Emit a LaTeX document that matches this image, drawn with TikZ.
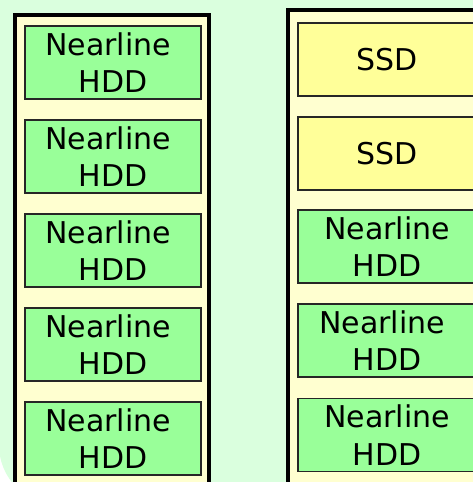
\documentclass[tikz,border=0pt]{standalone}
\usepackage{fontspec}
\setmainfont{DejaVu Sans}
\definecolor{bgmint}{RGB}{218,255,222}
\definecolor{trayyellow}{RGB}{255,255,208}
\definecolor{hddgreen}{RGB}{153,255,153}
\definecolor{ssdyellow}{RGB}{255,255,153}
\tikzset{
  tray/.style={draw=black, line width=3.6pt, fill=trayyellow},
  disk/.style={draw=black!85, line width=1.3pt, inner sep=0pt, align=center,
    font=\fontsize{30}{37.5}\selectfont},
  hdd/.style={disk, fill=hddgreen},
  ssd/.style={disk, fill=ssdyellow}
}
\begin{document}
\begin{tikzpicture}[x=1pt, y=-1pt]
  \useasboundingbox (0,0) rectangle (473,482);
  \clip (0,0) rectangle (473,482);

  % Background
  \fill[white] (0,0) rectangle (473,482);
  \fill[bgmint, rounded corners=60pt] (-1,-80) -- (-1,505) -- (560,505) -- (560,-80) -- cycle;

  % Left tray
  \draw[tray] (14.7,14.7) rectangle (208.7,520);
  \node[hdd, minimum width=176pt, minimum height=73pt] (l1) at (113,62.5) {Nearline\kern10pt\\HDD};
  \node[hdd, minimum width=176pt, minimum height=73pt] (l2) at (113,156.5) {Nearline\kern10pt\\HDD};
  \node[hdd, minimum width=176pt, minimum height=73pt] (l3) at (113,250.5) {Nearline\kern10pt\\HDD};
  \node[hdd, minimum width=176pt, minimum height=73pt] (l4) at (113,344.5) {Nearline\kern10pt\\HDD};
  \node[hdd, minimum width=176pt, minimum height=73pt] (l5) at (113,438.5) {Nearline\kern10pt\\HDD};

  % Right tray
  \draw[tray] (288,10) rectangle (500,520);
  \node[ssd, minimum width=178pt, minimum height=73pt] (r1) at (387,59.5) {SSD};
  \node[ssd, minimum width=178pt, minimum height=73pt] (r2) at (387,153.5) {SSD};
  \node[hdd, minimum width=178pt, minimum height=73pt] (r3) at (387,246.5) {Nearline\\HDD};
  \node[hdd, minimum width=178pt, minimum height=73pt] (r4) at (387,340.5) {Nearline\kern10pt\\HDD};
  \node[hdd, minimum width=178pt, minimum height=73pt] (r5) at (387,435) {Nearline\\HDD};
\end{tikzpicture}
\end{document}
